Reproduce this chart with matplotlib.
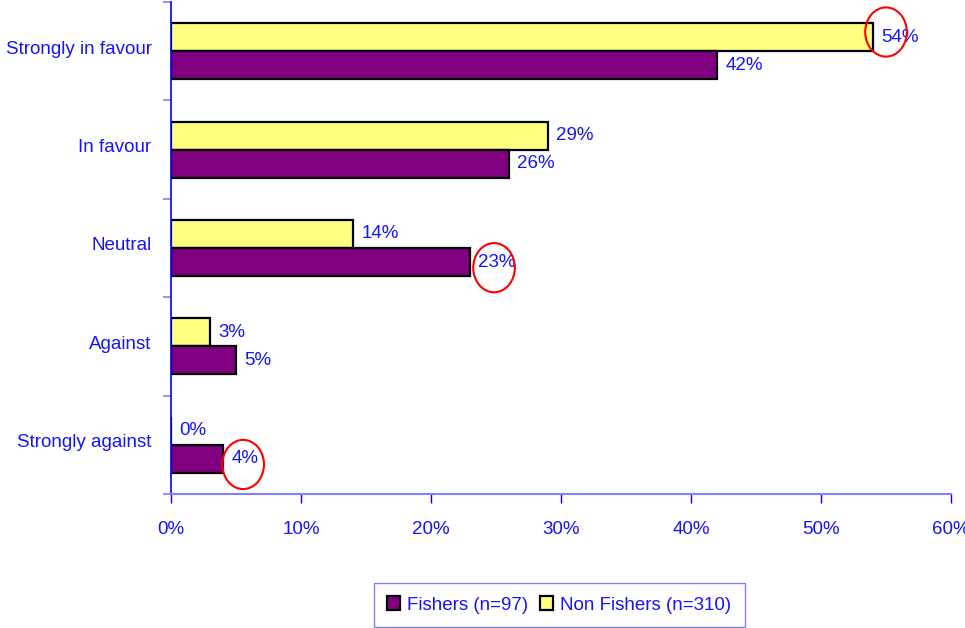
import matplotlib.pyplot as plt
import matplotlib.transforms as mtransforms
import numpy as np
from matplotlib.patches import Ellipse

plt.rcParams['font.family'] = ['Liberation Sans', 'DejaVu Sans']

# categories listed bottom to top
categories = ["Strongly against", "Against", "Neutral", "In favour", "Strongly in favour"]
fishers = [4, 5, 23, 26, 42]
non_fishers = [0, 3, 14, 29, 54]
labels_fishers = ["4%", "5%", "23%", "26%", "42%"]
labels_non = ["0%", "3%", "14%", "29%", "54%"]
xticks = [0, 10, 20, 30, 40, 50, 60]
xtick_labels = ["0%", "10%", "20%", "30%", "40%", "50%", "60%"]

# red rings drawn around some labels: (value, category index, series)
highlights = [(54, 4, 'non'), (23, 2, 'fish'), (4, 0, 'fish')]
ring_shift = [1.0, 1.85, 1.55]

purple = '#800080'
yellow = '#ffff80'
txt = '#1414ff'
fs = 13.5

fig = plt.figure(figsize=(9.65, 6.28), dpi=100)
ax = fig.add_axes([171 / 965, 1 - 494 / 628, 780 / 965, 492 / 628])

y = np.arange(len(categories))
h = 0.285
ax.barh(y + h / 2, non_fishers, height=h, color=yellow, edgecolor='black', linewidth=1.6,
        label="Non Fishers (n=310)")
ax.barh(y - h / 2, fishers, height=h, color=purple, edgecolor='black', linewidth=1.6,
        label="Fishers (n=97)")

for i in range(len(categories)):
    ax.annotate(labels_non[i], (non_fishers[i], y[i] + h / 2), xytext=(6, 0),
                textcoords='offset points', va='center', ha='left', color=txt, fontsize=fs)
    ax.annotate(labels_fishers[i], (fishers[i], y[i] - h / 2), xytext=(6, 0),
                textcoords='offset points', va='center', ha='left', color=txt, fontsize=fs)

for (val, idx, ser), dx in zip(highlights, ring_shift):
    yc = idx + (0.195 if ser == 'non' else -0.20)
    ax.add_patch(Ellipse((val + dx, yc), 3.2, 0.5, fill=False, edgecolor='red',
                         linewidth=1.5, clip_on=False, zorder=5))

ax.set_xlim(0, 60)
ax.set_ylim(-0.5, len(categories) - 0.5)
ax.set_xticks(xticks)
ax.set_xticklabels(xtick_labels)

ax.set_yticks(np.arange(-0.5, len(categories), 1.0))
ax.set_yticklabels([])
ax.set_yticks(y, minor=True)
ax.set_yticklabels(categories, minor=True)

ax.tick_params(axis='y', which='major', length=6, width=1.2, color='#8080ff', direction='out')
ax.tick_params(axis='y', which='minor', length=0, pad=14, labelsize=fs, labelcolor=txt)
ax.tick_params(axis='x', length=6.5, width=1, color='#0000ff', pad=13, labelsize=fs,
               labelcolor=txt)

# category labels sit a little above the bar-pair centre
shift = mtransforms.ScaledTranslation(0, 4 / 100, fig.dpi_scale_trans)
for lab in ax.get_yticklabels(minor=True):
    lab.set_transform(lab.get_transform() + shift)

for s in ['top', 'right']:
    ax.spines[s].set_visible(False)
ax.spines['left'].set_color('#0000ff')
ax.spines['left'].set_linewidth(1.2)
ax.spines['bottom'].set_color('#8080ff')
ax.spines['bottom'].set_linewidth(1.5)

handles, lbls = ax.get_legend_handles_labels()
leg = fig.legend(handles[::-1], lbls[::-1], loc='center', bbox_to_anchor=(559 / 965, 1 - 605 / 628),
                 ncol=2, frameon=True, fancybox=False, fontsize=fs, handlelength=0.7,
                 handleheight=0.7, handletextpad=0.4, columnspacing=0.6, borderpad=0.7,
                 labelcolor=txt)
leg.get_frame().set_edgecolor('#6060ff')
leg.get_frame().set_linewidth(1)

fig.savefig('out.png', dpi=100)
